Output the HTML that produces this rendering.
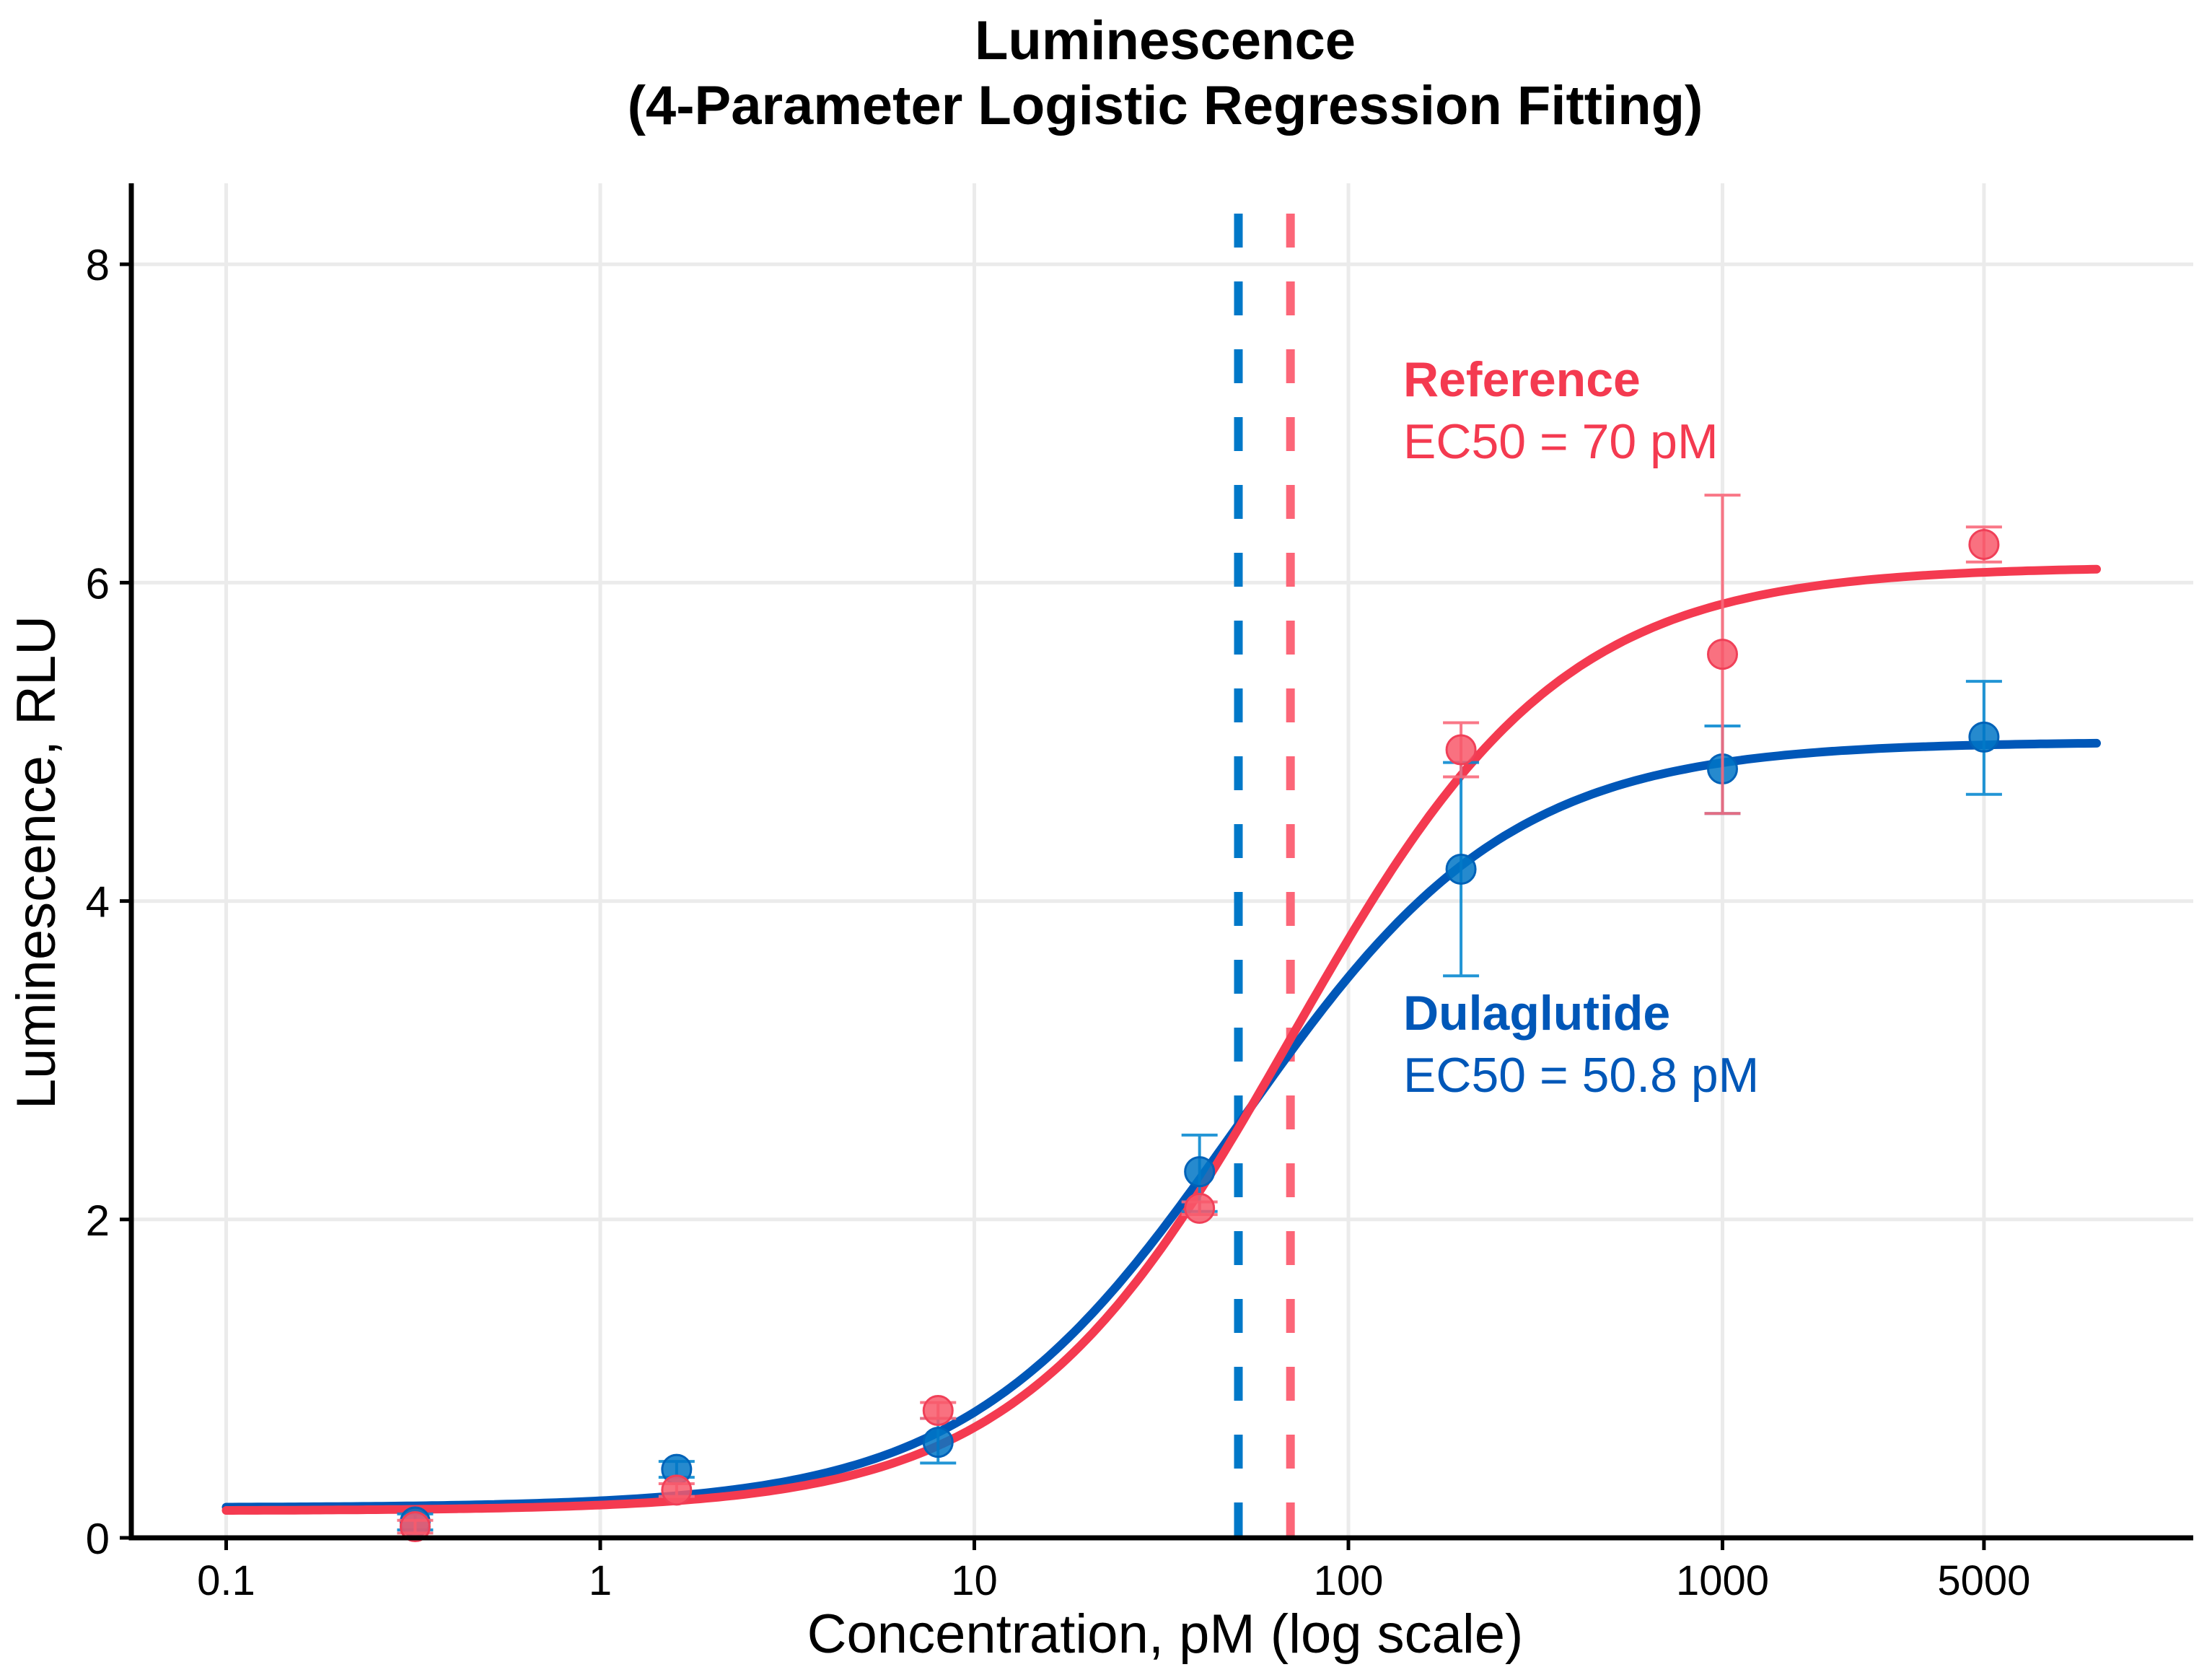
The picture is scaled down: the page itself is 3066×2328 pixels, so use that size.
<!DOCTYPE html>
<html><head><meta charset="utf-8"><style>
html,body{margin:0;padding:0;background:#fff;}
svg{display:block;font-family:"Liberation Sans",Arial,sans-serif;}
</style></head><body>
<svg id="chart" width="3066" height="2328" viewBox="0 0 3066 2328">
<text x="1615" y="82" text-anchor="middle" font-size="76" font-weight="bold">Luminescence</text>
<text x="1615" y="172" text-anchor="middle" font-size="76" font-weight="bold">(4-Parameter Logistic Regression Fitting)</text>
<g id="grid"></g>
<g id="vlines"></g>
<g id="curves"></g>
<g id="points"></g>
<g id="axes"></g>
<text x="1945" y="549" font-size="68" font-weight="bold" fill="#f43a50">Reference</text>
<text x="1945" y="635" font-size="68" fill="#f43a50">EC50 = 70 pM</text>
<text x="1945" y="1427" font-size="68" font-weight="bold" fill="#0057b8">Dulaglutide</text>
<text x="1945" y="1513" font-size="68" fill="#0057b8">EC50 = 50.8 pM</text>
<text x="1615" y="2290" text-anchor="middle" font-size="76">Concentration, pM (log scale)</text>
<text transform="translate(76,1195) rotate(-90)" text-anchor="middle" font-size="76">Luminescence, RLU</text>
</svg>
<script>
const xTicks=[0.1,1,10,100,1000,5000];
const xTickLabels=["0.1","1","10","100","1000","5000"];
const yTicks=[0,2,4,6,8];
const doses=[0.32,1.6,8,40,200,1000,5000];
const dulaMean=[0.1,0.43,0.6,2.3,4.2,4.83,5.03];
const dulaLow=[0.05,0.38,0.47,2.05,3.53,4.55,4.67];
const dulaHigh=[0.15,0.48,0.75,2.53,4.87,5.1,5.38];
const refMean=[0.07,0.3,0.8,2.07,4.95,5.55,6.24];
const refLow=[0.03,0.26,0.75,2.03,4.78,4.55,6.13];
const refHigh=[0.11,0.34,0.85,2.11,5.12,6.55,6.35];
const dulaFit=[0.19,5.0,50.8,1.2];
const refFit=[0.17,6.1,70,1.2];
const ec50s=[50.8,70];

const NS="http://www.w3.org/2000/svg";
const X=v=>1869+(Math.log10(v)-2)*518.5;
const Y=v=>2131-v*220.6;
const L=182,R=3040,T=254;
function mk(p,t,a){const e=document.createElementNS(NS,t);for(const k in a)e.setAttribute(k,a[k]);document.getElementById(p).appendChild(e);return e;}
xTicks.forEach((t,i)=>{
 const g=mk('grid','line',{x1:X(t),x2:X(t),y1:T,y2:2131,stroke:'#ebebeb','stroke-width':5});
 
 
 const k=mk('axes','line',{x1:X(t),x2:X(t),y1:2131,y2:2148,stroke:'#000','stroke-width':5});
 
 
 const tx=mk('axes','text',{x:X(t),y:2210,'text-anchor':'middle','font-size':58});
 tx.textContent=xTickLabels[i];
 
 
});
yTicks.forEach(t=>{
 const g=mk('grid','line',{x1:L,x2:R,y1:Y(t),y2:Y(t),stroke:'#ebebeb','stroke-width':5});
 
 
 const k=mk('axes','line',{x1:166,x2:L,y1:Y(t),y2:Y(t),stroke:'#000','stroke-width':5});
 
 
 const tx=mk('axes','text',{x:152,y:Y(t)+22,'text-anchor':'end','font-size':60});
 tx.textContent=String(t);
 
 
});
const ax=mk('axes','path',{d:`M${L},${T}V2131H${R}`,fill:'none',stroke:'#000','stroke-width':7});


const vcol=['#0078c8','#fc6678'];
ec50s.forEach((e,i)=>{
 const l=mk('vlines','line',{x1:X(e),x2:X(e),y1:296,y2:2131,stroke:vcol[i],'stroke-width':12,'stroke-dasharray':'47 47'});
 
 
});
function fit(p,x){return p[0]+(p[1]-p[0])/(1+Math.pow(p[2]/x,p[3]));}
function curve(p,col,name){
 let d='';for(let i=0;i<=300;i++){const lx=-1+i*5/300;const x=Math.pow(10,lx);d+=(i?'L':'M')+X(x).toFixed(1)+','+Y(fit(p,x)).toFixed(1);}
 const c=mk('curves','path',{d,fill:'none',stroke:col,'stroke-width':12,'stroke-linecap':'round'});
 
 
}
function pts(m,lo,hi,ec,fill,stroke,name){
 doses.forEach((d,i)=>{
  const x=X(d);
  const e=mk('points','path',{d:`M${x},${Y(lo[i])}V${Y(hi[i])}M${x-25},${Y(lo[i])}h50M${x-25},${Y(hi[i])}h50`,stroke:ec,'stroke-width':4,fill:'none','stroke-opacity':0.9});
  
  
  const c=mk('points','circle',{cx:x,cy:Y(m[i]),r:20,fill:fill,'fill-opacity':0.85,stroke:stroke,'stroke-width':3});
  
  
 });
}
curve(dulaFit,'#0057b8','dulaglutide-curve');
pts(dulaMean,dulaLow,dulaHigh,'#0a8ad0','#0075c6','#0062b8','dulaglutide');
pts(refMean,refLow,refHigh,'#f8687a','#f8586a','#f04058','reference');
curve(refFit,'#f43a50','reference-curve');
</script>
</body></html>
